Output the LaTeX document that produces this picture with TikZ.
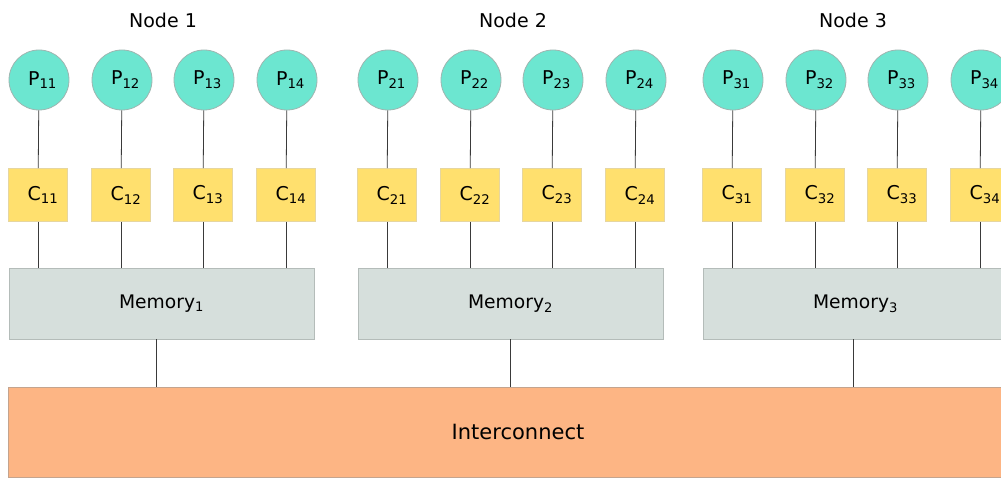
\documentclass[tikz,border=0pt]{standalone}
\usepackage{fontspec}
\setmainfont{DejaVu Sans}
\definecolor{procfill}{HTML}{6CE6D0}
\definecolor{procline}{HTML}{9FB5B0}
\definecolor{cachefill}{HTML}{FFE06E}
\definecolor{cacheline}{HTML}{E6D6A0}
\definecolor{memfill}{HTML}{D6DFDC}
\definecolor{memline}{HTML}{B4BCB9}
\definecolor{netfill}{HTML}{FDB584}
\definecolor{netline}{HTML}{C4A48E}
\definecolor{wire}{HTML}{3A3A3A}
\begin{document}
\begin{tikzpicture}[x=1pt,y=-1pt,
  proc/.style={circle,draw=procline,fill=procfill,line width=0.8pt,minimum size=60pt,inner sep=0pt,
    font=\fontsize{19}{22}\selectfont},
  cache/.style={rectangle,draw=cacheline,fill=cachefill,line width=0.6pt,minimum width=59pt,minimum height=53pt,inner sep=0pt,
    font=\fontsize{19}{22}\selectfont},
  mem/.style={rectangle,draw=memline,fill=memfill,line width=0.8pt,minimum width=305pt,minimum height=71pt,inner sep=0pt,
    font=\fontsize{18.7}{22}\selectfont},
  net/.style={rectangle,draw=netline,fill=netfill,line width=0.8pt,minimum width=1020pt,minimum height=90pt,inner sep=0pt,
    font=\fontsize{21}{25}\selectfont},
  title/.style={font=\fontsize{19}{22}\selectfont,inner sep=0pt},
  link/.style={draw=wire,line width=0.8pt}]
\clip (0,0) rectangle (1001,478);
\fill[white] (0,0) rectangle (1001,478);

% interconnect along the bottom
\node[net] (ic) at (518,432) {Interconnect};

% three nodes, each with four processors, four caches and one memory
\foreach \g/\b/\tdx/\mdx in {1/39/124/-5.5,2/388/125/0,3/733/120/-2.5} {
  \node[title] (t\g) at (\b+\tdx,20) {Node \g};
  \node[mem] (m\g) at (\b+122.5,303.5) {Memory\textsubscript{\g}};
  \foreach \i/\dx in {1/0,2/83,3/165,4/248} {
    \node[proc] (p\g\i) at (\b+\dx,80) {\hspace*{7pt}P\textsubscript{\g\i}};
    \node[cache] (c\g\i) at (\b+\dx-1,195) {\hspace*{10pt}C\textsubscript{\g\i}};
    \draw[link] (p\g\i) -- (c\g\i);
    \draw[link] (c\g\i.south) -- (c\g\i.south |- m\g.north);
  }
  \draw[link] ([xshift=\mdx pt]m\g.south) -- ([xshift=\mdx pt]m\g.south |- ic.north);
}
\end{tikzpicture}
\end{document}
